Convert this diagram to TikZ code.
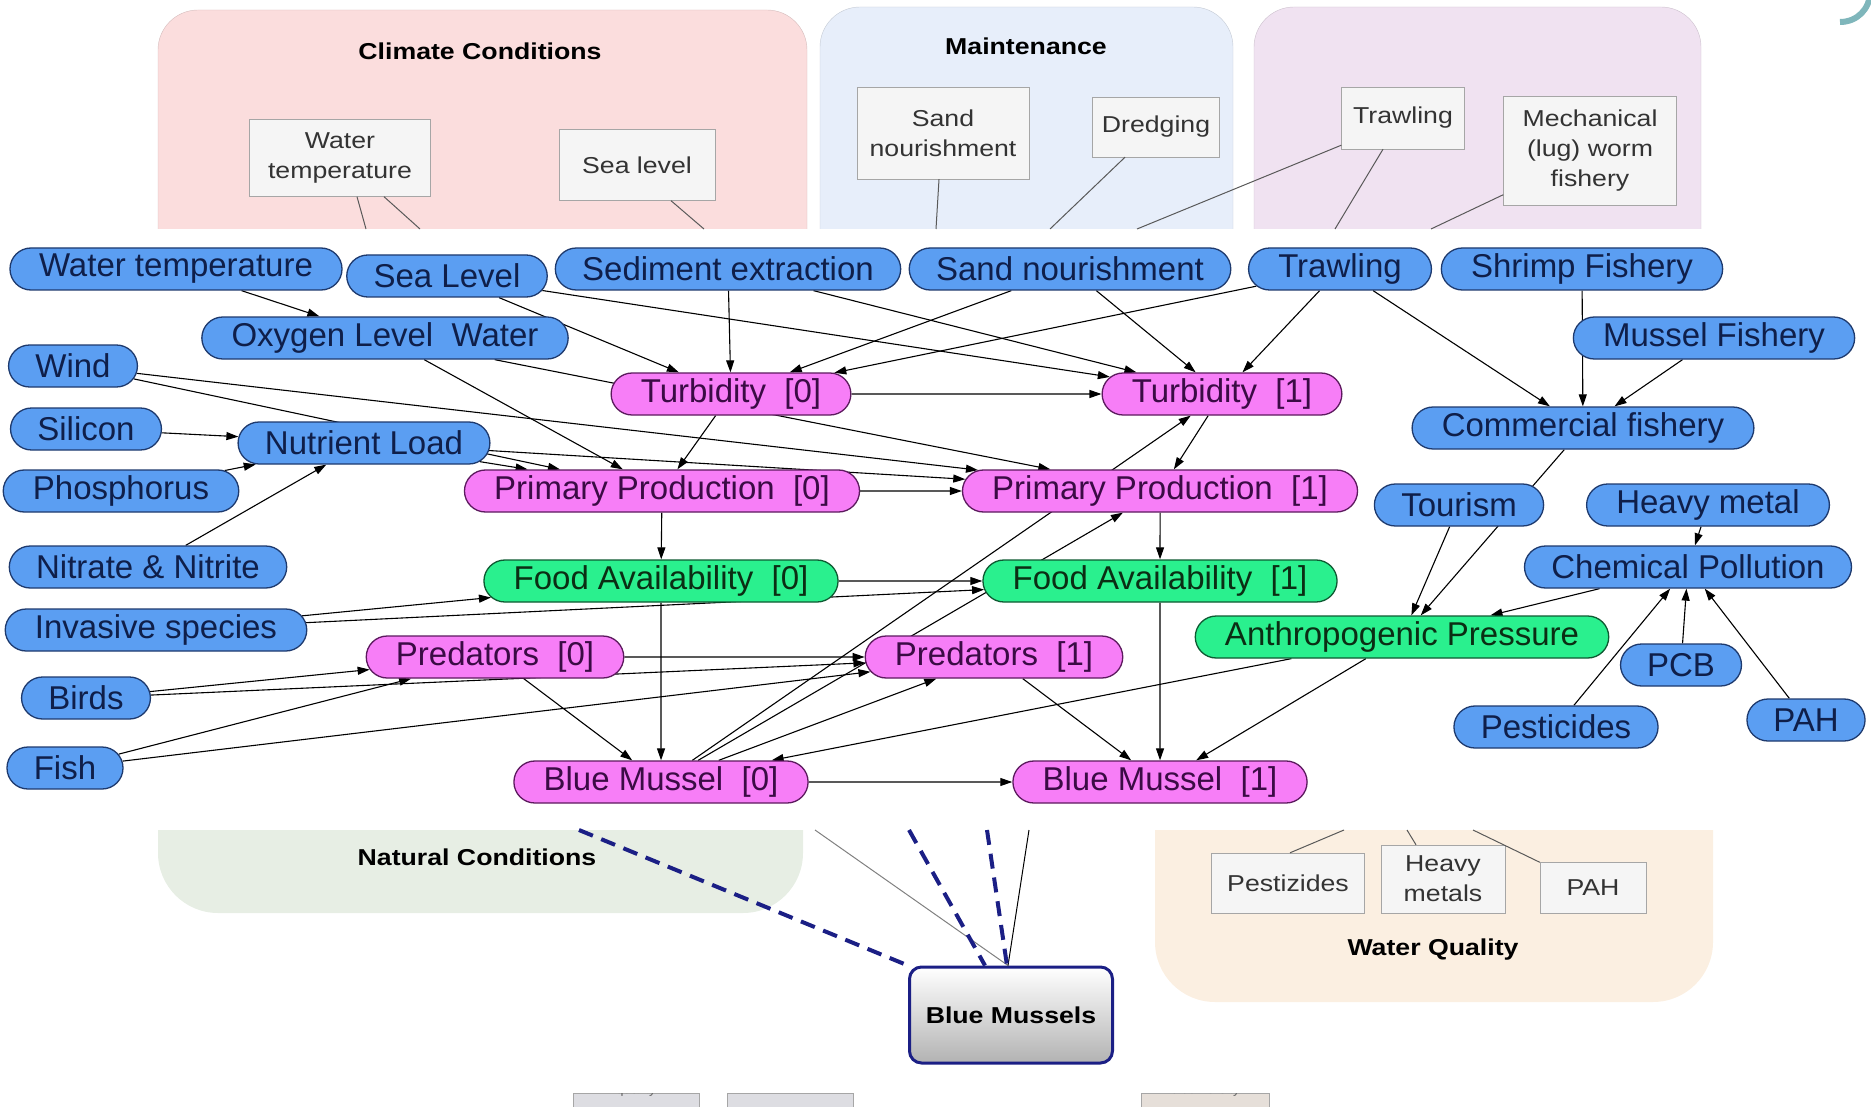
\documentclass[tikz,border=0pt]{standalone}
\usepackage{fontspec}
\setmainfont{Liberation Sans}
\newfontfamily\boxfont[FakeStretch=1.16]{Liberation Sans}
\usetikzlibrary{shapes.misc,arrows.meta,backgrounds}
\pgfdeclarelayer{edges}
\pgfsetlayers{background,edges,main}

\definecolor{bnfill}{HTML}{5B9EF2}
\definecolor{bndraw}{HTML}{1E3A6E}
\definecolor{bntext}{HTML}{0F1F4A}
\definecolor{mgfill}{HTML}{F77EF7}
\definecolor{mgdraw}{HTML}{5C1A5E}
\definecolor{mgtext}{HTML}{3B0B45}
\definecolor{grfill}{HTML}{2AF08E}
\definecolor{grdraw}{HTML}{0E5A32}
\definecolor{grtext}{HTML}{0B2E14}
\definecolor{climate}{HTML}{FBDDDD}
\definecolor{maint}{HTML}{E7EEFA}
\definecolor{fishing}{HTML}{F0E2F1}
\definecolor{natural}{HTML}{E7EEE4}
\definecolor{waterq}{HTML}{FBEFE1}
\definecolor{navy}{HTML}{1B1F85}
\definecolor{tealarc}{HTML}{7FB6BB}

\tikzset{
  netnode/.style={rounded rectangle, draw, line width=1.3pt, minimum height=42pt,
    inner xsep=23pt, inner ysep=0pt, font=\fontsize{33}{36}\selectfont},
  ext/.style={netnode, fill=bnfill, draw=bndraw, text=bntext},
  slice/.style={netnode, fill=mgfill, draw=mgdraw, text=mgtext},
  inter/.style={netnode, fill=grfill, draw=grdraw, text=grtext},
  link/.style={-{Triangle[length=12pt,width=8pt]}, line width=1.1pt},
  panelbox/.style={draw=gray!70, fill=gray!8, align=center, inner sep=0pt,
    text=black!80, font=\boxfont\fontsize{23}{30}\selectfont},
  paneltitle/.style={font=\boxfont\bfseries\fontsize{23}{27}\selectfont},
  feed/.style={draw=black!65, line width=1pt},
  navydash/.style={navy, line width=4pt, dash pattern=on 15pt off 9pt}
}

\begin{document}
\begin{tikzpicture}[x=1pt,y=-1pt]
\useasboundingbox (0,0) rectangle (1871,1107);

% screenshot panels behind the network
\begin{pgfonlayer}{background}
\fill[climate, draw=climate!85!black, rounded corners=40pt] (158,10) rectangle (807,300);
\fill[maint, draw=maint!85!black, rounded corners=40pt] (820,7) rectangle (1233,300);
\fill[fishing, draw=fishing!85!black, rounded corners=40pt] (1254,7) rectangle (1701,300);
\fill[natural, rounded corners=60pt] (158,760) rectangle (803,913);
\fill[waterq, rounded corners=60pt] (1155,760) rectangle (1713,1002);
\fill[white] (0,229) rectangle (1871,830);
\end{pgfonlayer}

\node[paneltitle] (climtitle) at (480,51) {Climate Conditions};
\node[paneltitle] (mainttitle) at (1026,46) {Maintenance};
\node[paneltitle] (nattitle) at (477,857) {Natural Conditions};
\node[paneltitle] (wqtitle) at (1433,950) {Water Quality};

\node[panelbox, minimum width=181pt, minimum height=77pt] (wtbox) at (340,158) {Water\\temperature};
\node[panelbox, minimum width=156pt, minimum height=71pt] (slbox) at (637,165) {Sea level};
\node[panelbox, minimum width=172pt, minimum height=92pt] (snbox) at (943,133) {Sand\\nourishment};
\node[panelbox, minimum width=127pt, minimum height=60pt] (drbox) at (1156,127) {Dredging};
\node[panelbox, minimum width=123pt, minimum height=62pt] (trbox) at (1403,118) {Trawling};
\node[panelbox, minimum width=173pt, minimum height=109pt] (mwbox) at (1590,151) {Mechanical\\(lug) worm\\fishery};
\node[panelbox, minimum width=153pt, minimum height=60pt] (pzbox) at (1288,883) {Pestizides};
\node[panelbox, minimum width=124pt, minimum height=68pt] (hmbox) at (1443,879) {Heavy\\metals};
\node[panelbox, minimum width=106pt, minimum height=51pt] (pabox) at (1593,888) {PAH};

\coordinate (wtend1) at (366,229);
\coordinate (wtend2) at (420,229);
\coordinate (slend) at (704,229);
\coordinate (snend) at (936,229);
\coordinate (drend) at (1050,229);
\coordinate (trend1) at (1137,229);
\coordinate (trend2) at (1335,229);
\coordinate (mwend) at (1431,229);
\coordinate (pzend) at (1344,830);
\coordinate (hmend) at (1407,830);
\coordinate (paend) at (1473,830);
\draw[feed] ([xshift=17pt]wtbox.south) -- (wtend1);
\draw[feed] ([xshift=44pt]wtbox.south) -- (wtend2);
\draw[feed] ([xshift=34pt]slbox.south) -- (slend);
\draw[feed] ([xshift=-4pt]snbox.south) -- (snend);
\draw[feed] ([xshift=-31pt]drbox.south) -- (drend);
\draw[feed] ([yshift=4pt]trbox.south west) -- (trend1);
\draw[feed] ([xshift=-20pt]trbox.south) -- (trend2);
\draw[feed] ([yshift=11pt]mwbox.south west) -- (mwend);
\draw[feed] ([xshift=2pt]pzbox.north) -- (pzend);
\draw[feed] ([xshift=-27pt]hmbox.north) -- (hmend);
\draw[feed] (pabox.north west) -- (paend);

% blue mussels summary box
\node[draw=navy, line width=3pt, rounded corners=12pt, top color=white, bottom color=gray!60,
  minimum width=203pt, minimum height=96pt, font=\boxfont\bfseries\fontsize{23}{27}\selectfont]
  (bmbox) at (1011,1015) {Blue Mussels};
\coordinate (nat1) at (579,830);
\coordinate (nat2) at (909,830);
\coordinate (nat3) at (987,830);
\coordinate (nat4) at (1029,830);
\coordinate (nat5) at (815,830);
\draw[gray, line width=1pt] (nat5) -- ([xshift=-3pt]bmbox.north);
\draw[black, line width=1pt] (nat4) -- ([xshift=-3pt]bmbox.north);
\draw[navydash] (nat1) -- (bmbox.north west);
\draw[navydash] (nat2) -- ([xshift=-26pt]bmbox.north);
\draw[navydash] (nat3) -- ([xshift=-4pt]bmbox.north);

% cut-off boxes at the bottom
\begin{scope}
\clip (0,1093) rectangle (1871,1107);
\draw[draw=black!35, fill=blue!8!gray!25] (573,1093) rectangle (699,1120);
\draw[draw=black!35, fill=blue!8!gray!25] (727,1093) rectangle (853,1120);
\draw[draw=black!35, fill=orange!20!gray!25] (1141,1093) rectangle (1269,1120);
\node[font=\fontsize{14}{14}\selectfont, text=black!60] (qtext) at (636,1090) {quality};
\node[font=\fontsize{14}{14}\selectfont, text=black!60] (btext) at (1205,1090) {biodiversity};
\end{scope}

\draw[tealarc, line width=6pt] (1840,22) .. controls (1857,22) and (1870,9) .. (1870,-8);

% network nodes
\node[ext] (wtemp) at (176,269) {Water temperature};
\node[ext] (sealevel) at (447,276) {Sea Level};
\node[ext] (sedext) at (728,269) {Sediment extraction};
\node[ext] (sandn) at (1070,269) {Sand nourishment};
\node[ext] (trawl) at (1340,269) {Trawling};
\node[ext] (shrimp) at (1582,269) {Shrimp Fishery};
\node[ext] (oxy) at (385,338) {Oxygen Level~~Water};
\node[ext] (musself) at (1714,338) {Mussel Fishery};
\node[ext] (wind) at (73,366) {Wind};
\node[ext] (silicon) at (86,429) {Silicon};
\node[ext] (nutr) at (364,443) {Nutrient Load};
\node[ext] (phos) at (121,491) {Phosphorus};
\node[ext] (comfish) at (1583,428) {Commercial fishery};
\node[ext] (tourism) at (1459,505) {Tourism};
\node[ext] (heavy) at (1708,505) {Heavy metal};
\node[ext] (nitr) at (148,567) {Nitrate \& Nitrite};
\node[ext] (chem) at (1688,567) {Chemical Pollution};
\node[ext] (invas) at (156,630) {Invasive species};
\node[ext] (birds) at (86,698) {Birds};
\node[ext] (fish) at (65,768) {Fish};
\node[ext] (pcb) at (1681,665) {PCB};
\node[ext] (pest) at (1556,727) {Pesticides};
\node[ext] (pah) at (1806,720) {PAH};

\node[slice] (turb0) at (731,394) {Turbidity~~[0]};
\node[slice] (turb1) at (1222,394) {Turbidity~~[1]};
\node[slice] (pp0) at (662,491) {Primary Production~~[0]};
\node[slice] (pp1) at (1160,491) {Primary Production~~[1]};
\node[inter] (food0) at (661,581) {Food Availability~~[0]};
\node[inter] (food1) at (1160,581) {Food Availability~~[1]};
\node[slice] (pred0) at (495,657) {Predators~~[0]};
\node[slice] (pred1) at (994,657) {Predators~~[1]};
\node[slice] (bm0) at (661,782) {Blue Mussel~~[0]};
\node[slice] (bm1) at (1160,782) {Blue Mussel~~[1]};
\node[inter] (anthro) at (1402,637) {Anthropogenic Pressure};

\begin{pgfonlayer}{edges}
\draw[link] (wtemp) -- (oxy);
\draw[link] (sealevel) -- (turb0);
\draw[link] (sealevel) -- (turb1);
\draw[link] (sedext) -- (turb0);
\draw[link] (sedext) -- (turb1);
\draw[link] (sandn) -- (turb0);
\draw[link] (sandn) -- (turb1);
\draw[link] (trawl) -- (turb0);
\draw[link] (trawl) -- (turb1);
\draw[link] (trawl) -- (comfish);
\draw[link] (shrimp) -- (comfish);
\draw[link] (musself) -- (comfish);
\draw[link] (oxy) -- (pp0);
\draw[link] (oxy) -- (pp1);
\draw[link] (wind) -- (pp0);
\draw[link] (wind) -- (pp1);
\draw[link] (silicon) -- (nutr);
\draw[link] (phos) -- (nutr);
\draw[link] (nitr) -- (nutr);
\draw[link] (nutr) -- (pp0);
\draw[link] (nutr) -- (pp1);
\draw[link] (turb0) -- (turb1);
\draw[link] (turb0) -- (pp0);
\draw[link] (turb1) -- (pp1);
\draw[link] (pp0) -- (pp1);
\draw[link] (pp0) -- (food0);
\draw[link] (pp1) -- (food1);
\draw[link] (food0) -- (food1);
\draw[link] (invas) -- (food0);
\draw[link] (invas) -- (food1);
\draw[link] (birds) -- (pred0);
\draw[link] (birds) -- (pred1);
\draw[link] (fish) -- (pred0);
\draw[link] (fish) -- (pred1);
\draw[link] (pred0) -- (pred1);
\draw[link] (pred0) -- (bm0);
\draw[link] (food0) -- (bm0);
\draw[link] (bm0) -- (bm1);
\draw[link] (bm0) -- (turb1);
\draw[link] (bm0) -- (pp1);
\draw[link] (bm0) -- (pred1);
\draw[link] (pred1) -- (bm1);
\draw[link] (food1) -- (bm1);
\draw[link] (anthro) -- (bm0);
\draw[link] (anthro) -- (bm1);
\draw[link] (comfish) -- (anthro);
\draw[link] (tourism) -- (anthro);
\draw[link] (chem) -- (anthro);
\draw[link] (heavy) -- (chem);
\draw[link] (pest) -- (chem);
\draw[link] (pcb) -- (chem);
\draw[link] (pah) -- (chem);
\end{pgfonlayer}
\end{tikzpicture}
\end{document}
